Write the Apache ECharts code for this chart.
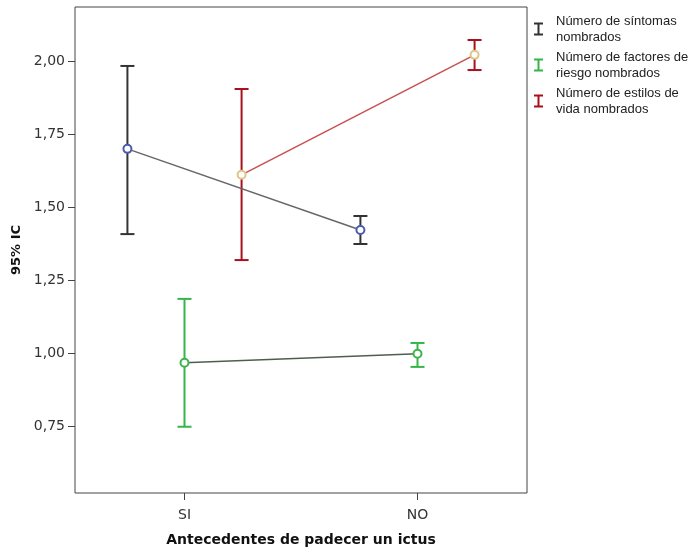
<!DOCTYPE html>
<html><head><meta charset="utf-8">
<script src="https://cdn.jsdelivr.net/npm/echarts@6/dist/echarts.min.js"></script>
<style>html,body{margin:0;padding:0;background:#fff}#c{width:689px;height:553px}</style>
</head><body><div id="c"></div>
<script>
const categories = ['SI', 'NO'];
const seriesNames = ['Número de síntomas\nnombrados', 'Número de factores de\nriesgo nombrados', 'Número de estilos de\nvida nombrados'];
const sintomasMean = [1.699, 1.421];
const sintomasLow = [1.407, 1.373];
const sintomasHigh = [1.983, 1.469];
const factoresMean = [0.966, 0.997];
const factoresLow = [0.747, 0.952];
const factoresHigh = [1.185, 1.034];
const estilosMean = [1.610, 2.021];
const estilosLow = [1.318, 1.969];
const estilosHigh = [1.904, 2.072];
const yTicks = [0.75, 1.00, 1.25, 1.50, 1.75, 2.00];

const groups = [
  {name: seriesNames[0], mean: sintomasMean, low: sintomasLow, high: sintomasHigh, offset: -0.245,
   barColor: '#333333', lineColor: '#666666', markColor: '#4a5cb0'},
  {name: seriesNames[1], mean: factoresMean, low: factoresLow, high: factoresHigh, offset: 0,
   barColor: '#36b548', lineColor: '#4e5e4e', markColor: '#3cb44b'},
  {name: seriesNames[2], mean: estilosMean, low: estilosLow, high: estilosHigh, offset: 0.245,
   barColor: '#a8101c', lineColor: '#c85050', markColor: '#e0c488'}
];

function makeRender(color) {
  return function (params, api) {
    const x = api.value(0), lo = api.value(1), hi = api.value(2);
    const pLo = api.coord([x, lo]), pHi = api.coord([x, hi]);
    const w = 7;
    const style = {stroke: color, lineWidth: 2};
    return {type: 'group', children: [
      {type: 'line', shape: {x1: pLo[0], y1: pLo[1], x2: pHi[0], y2: pHi[1]}, style: style},
      {type: 'line', shape: {x1: pLo[0] - w, y1: pLo[1], x2: pLo[0] + w, y2: pLo[1]}, style: style},
      {type: 'line', shape: {x1: pHi[0] - w, y1: pHi[1], x2: pHi[0] + w, y2: pHi[1]}, style: style}
    ]};
  };
}

const series = [];
groups.forEach(function (g) {
  series.push({
    name: g.name, type: 'custom', z: 2,
    itemStyle: {color: g.barColor},
    renderItem: makeRender(g.barColor),
    data: categories.map(function (c, i) { return [i + 1 + g.offset, g.low[i], g.high[i]]; })
  });
});
groups.forEach(function (g) {
  series.push({
    name: g.name + '_mean', type: 'line', z: 3,
    symbol: 'emptyCircle', symbolSize: 8,
    lineStyle: {color: g.lineColor, width: 1.5},
    itemStyle: {color: g.markColor, borderWidth: 1},
    data: categories.map(function (c, i) { return [i + 1 + g.offset, g.mean[i]]; })
  });
});

const chart = echarts.init(document.getElementById('c'));
chart.setOption({
  animation: false,
  backgroundColor: '#fff',
  grid: {left: 75, top: 7, right: 162, bottom: 60, show: true, borderColor: '#444', borderWidth: 1},
  legend: {
    data: seriesNames, orient: 'vertical', left: 529, top: 8, itemGap: 4,
    icon: 'path://M0,0h9v2h-3.5v9h3.5v2h-9v-2h3.5v-9h-3.5z',
    itemWidth: 9, itemHeight: 13,
    textStyle: {fontFamily: 'Liberation Sans', fontSize: 13, color: '#222', lineHeight: 16, padding: [0, 0, 0, 8]}
  },
  xAxis: {
    type: 'value', min: 0.53, max: 2.47,
    name: 'Antecedentes de padecer un ictus', nameLocation: 'middle', nameGap: 40,
    nameTextStyle: {fontFamily: 'DejaVu Sans', fontWeight: 'bold', fontSize: 14, color: '#111'},
    axisLine: {show: false},
    axisTick: {show: true, customValues: [1, 2], length: 7, lineStyle: {color: '#444'}},
    axisLabel: {customValues: [1, 2], margin: 15, fontFamily: 'DejaVu Sans', fontSize: 14, color: '#333',
      formatter: function (v) { return categories[Math.round(v) - 1]; }},
    splitLine: {show: false}
  },
  yAxis: {
    type: 'value', min: 0.52, max: 2.185,
    name: '95% IC', nameLocation: 'middle', nameGap: 43,
    nameTextStyle: {fontFamily: 'DejaVu Sans', fontWeight: 'bold', fontSize: 13, color: '#111'},
    axisLine: {show: false},
    axisTick: {show: true, customValues: yTicks, length: 7, lineStyle: {color: '#444'}},
    axisLabel: {customValues: yTicks, margin: 10, fontFamily: 'DejaVu Sans', fontSize: 14, color: '#333',
      formatter: function (v) { return v.toFixed(2).replace('.', ','); }},
    splitLine: {show: false}
  },
  series: series
});
</script>
</body></html>
